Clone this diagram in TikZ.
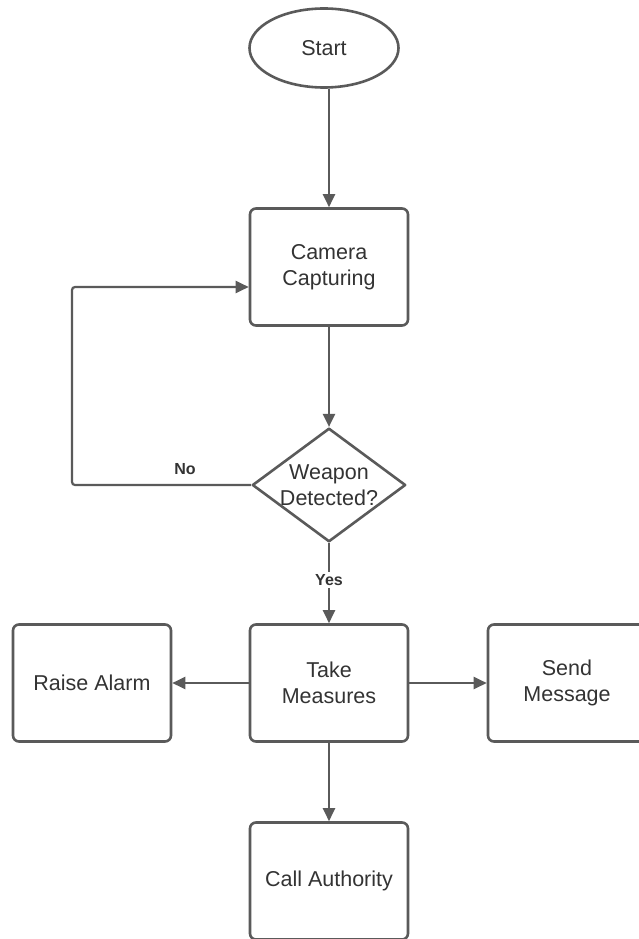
\documentclass[tikz,border=0pt]{standalone}
\usepackage{fontspec}
\setmainfont{Liberation Sans}
\usetikzlibrary{shapes.geometric,arrows.meta}
\definecolor{lc}{HTML}{5A5A5A}
\definecolor{tc}{HTML}{333333}
\tikzset{
  box/.style={draw=lc, line width=2.6pt, rounded corners=6pt, minimum width=158pt, minimum height=117pt, inner sep=0pt, align=center, text=tc, font=\fontsize{21.5}{26}\selectfont},
  startnode/.style={ellipse, draw=lc, line width=2.6pt, minimum width=149pt, minimum height=79pt, inner sep=0pt, text=tc, font=\fontsize{21.5}{26}\selectfont},
  decnode/.style={diamond, aspect=1.35, draw=lc, line width=2.6pt, minimum width=152pt, minimum height=112pt, inner sep=0pt, align=center, text=tc, font=\fontsize{21.5}{26}\selectfont, line join=round},
  conn/.style={draw=lc, line width=2.2pt, -{Triangle[length=13pt,width=12pt]}, rounded corners=3pt},
  lbl/.style={text=tc, font=\fontsize{16}{18}\selectfont\bfseries, inner sep=2pt},
}
\begin{document}
\begin{tikzpicture}[x=1pt,y=-1pt]
\useasboundingbox (0,0) rectangle (639,939);
\fill[white] (0,0) rectangle (639,939);
\node[startnode] (start) at (324,48) {Start};
\node[box] (cam) at (329,267) {Camera\\Capturing};
\node[decnode] (dec) at (329,485) {Weapon\\Detected?};
\node[box] (tm) at (329,683) {Take\\Measures};
\node[box] (ra) at (92,683) {Raise Alarm};
\node[box] (sm) at (567,683) {Send\\Message};
\node[box] (ca) at (329,881) {Call Authority};
\coordinate (lc) at (72,287);
\draw[conn] (start.south -| cam.north) -- (cam.north);
\draw[conn] (cam.south) -- (dec.north);
\draw[conn] (dec.west) -- (dec.west -| lc) -- (lc) -- ([yshift=-20pt]cam.west);
\node[lbl] (no) at (185,469) {No};
\draw[conn] (dec.south) -- (tm.north);
\node[lbl, fill=white] (yes) at (329,580) {Yes};
\draw[conn] (tm.west) -- (ra.east);
\draw[conn] (tm.east) -- (sm.west);
\draw[conn] (tm.south) -- (ca.north);
\end{tikzpicture}
\end{document}
